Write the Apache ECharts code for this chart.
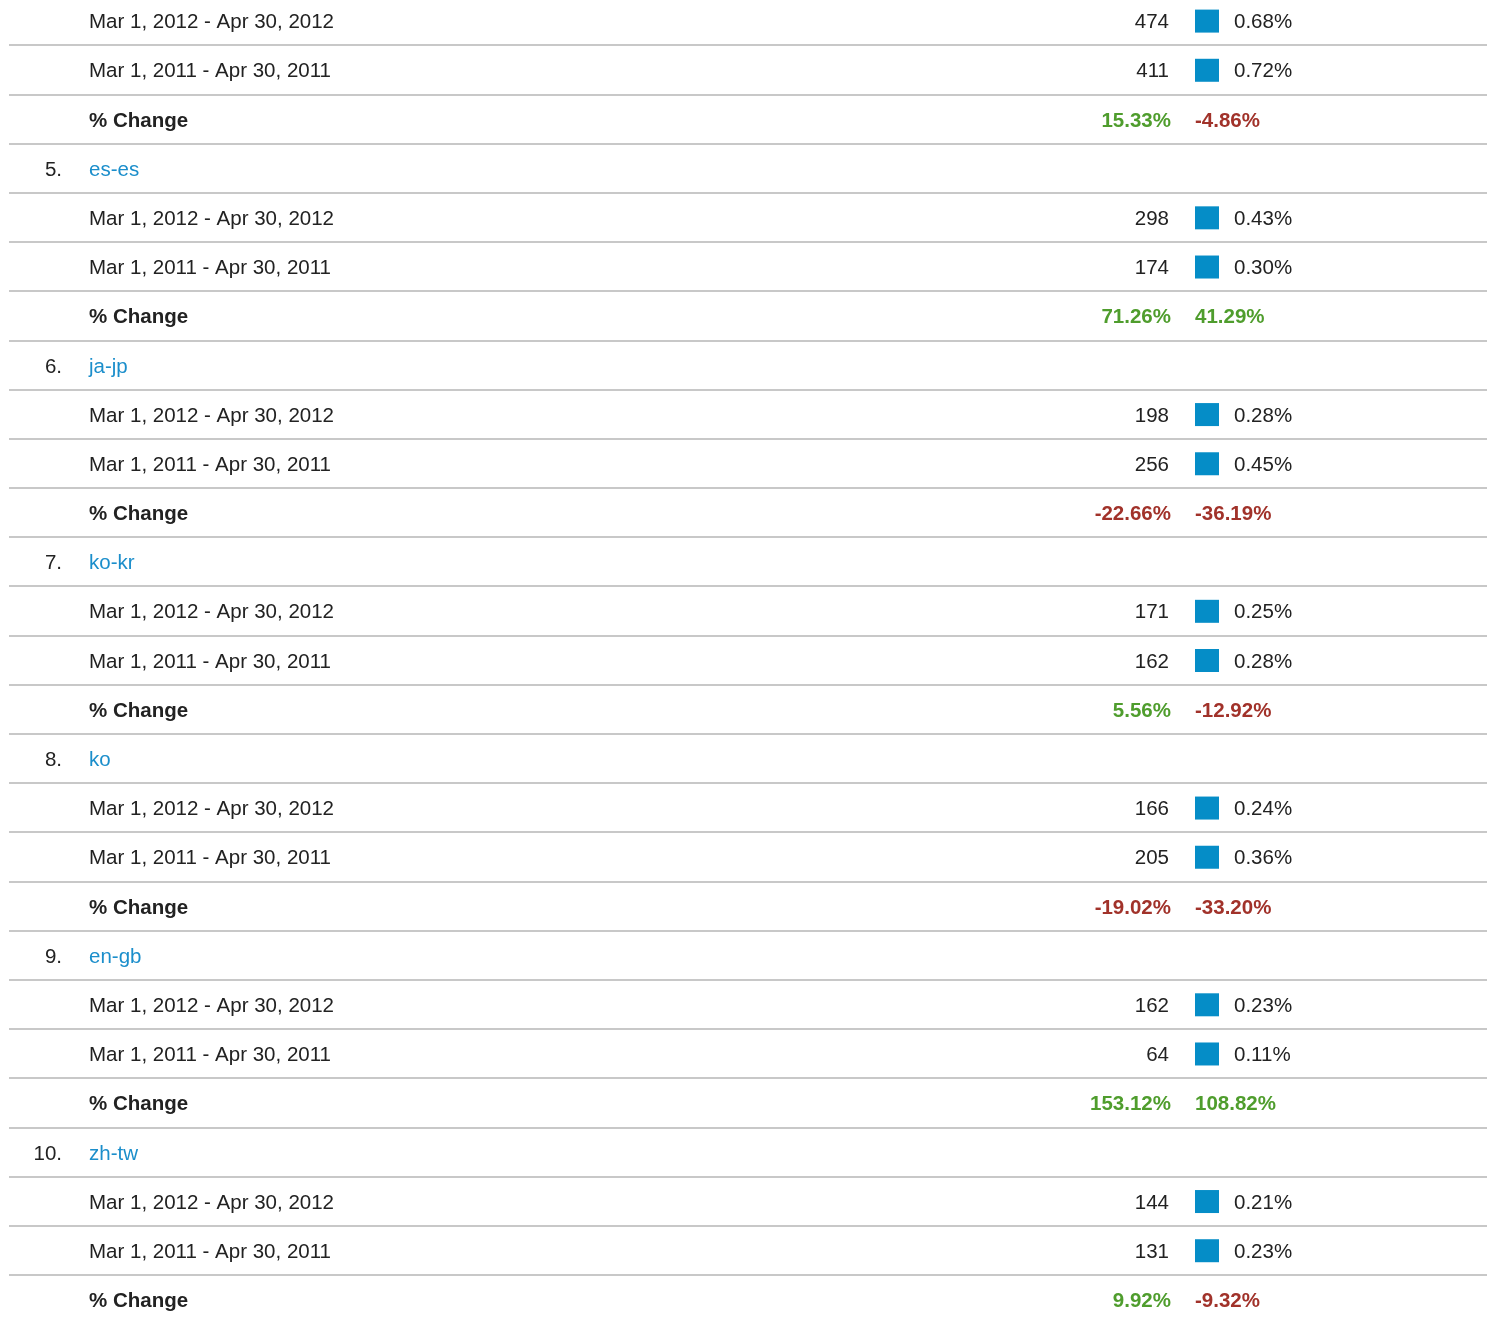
<!DOCTYPE html>
<html>
<head>
<meta charset="utf-8">
<script src="https://cdn.jsdelivr.net/npm/echarts@6/dist/echarts.min.js"></script>
<style>
    html, body { margin: 0; padding: 0; background: #fff; overflow: hidden; }
    /* 第一行被截掉一截，所以整体往上挪一点 */
    #main { position: absolute; left: 0; top: -4.2px; width: 1494px; height: 1328.4px; }
</style>
</head>
<body>
<div id="main"></div>
<script>
    // 各组数据（第4名的标题行在截图上方被截掉）
    var ranks = [4, 5, 6, 7, 8, 9, 10];
    var names = ['', 'es-es', 'ja-jp', 'ko-kr', 'ko', 'en-gb', 'zh-tw'];
    var periodCur = 'Mar 1, 2012 - Apr 30, 2012';
    var periodPrev = 'Mar 1, 2011 - Apr 30, 2011';
    var visitsCur = [474, 298, 198, 171, 166, 162, 144];
    var visitsPrev = [411, 174, 256, 162, 205, 64, 131];
    var shareCur = [0.68, 0.43, 0.28, 0.25, 0.24, 0.23, 0.21];
    var sharePrev = [0.72, 0.30, 0.45, 0.28, 0.36, 0.11, 0.23];
    var changeVisits = [15.33, 71.26, -22.66, 5.56, -19.02, 153.12, 9.92];
    var changeShare = [-4.86, 41.29, -36.19, -12.92, -33.20, 108.82, -9.32];

    var FONT = '"Liberation Sans", Arial, Helvetica, sans-serif';
    var TEXT = '#222222';
    var LINK = '#1b8ecb';
    var BLUE = '#058dc7';
    var GREEN = '#4f9d2d';
    var RED = '#a1322a';

    // 拼出每一行
    var rows = [];
    for (var i = 0; i < ranks.length; i++) {
        if (i > 0) {
            rows.push({ kind: 'head', rank: ranks[i] + '.', name: names[i] });
        }
        rows.push({ kind: 'val', label: periodCur, value: visitsCur[i], share: shareCur[i] });
        rows.push({ kind: 'val', label: periodPrev, value: visitsPrev[i], share: sharePrev[i] });
        rows.push({ kind: 'chg', label: '% Change', a: changeVisits[i], b: changeShare[i] });
    }

    function pct(v) {
        return v.toFixed(2) + '%';
    }

    function txt(x, y, s, color, align, bold) {
        return {
            type: 'text',
            style: {
                x: x,
                y: y + 2,
                text: s,
                fill: color,
                font: (bold ? 'bold ' : '') + '20.5px ' + FONT,
                textAlign: align,
                textVerticalAlign: 'middle'
            }
        };
    }

    function renderRow(params, api) {
        var r = rows[api.value(0)];
        var p = api.coord([0, api.value(0)]);
        var x0 = p[0], y = p[1];
        var children = [];
        if (r.kind === 'head') {
            children.push(txt(x0 + 53, y, r.rank, TEXT, 'right'));
            children.push(txt(x0 + 80, y, r.name, LINK, 'left'));
        } else if (r.kind === 'val') {
            children.push(txt(x0 + 80, y, r.label, TEXT, 'left'));
            children.push(txt(x0 + 1160, y, String(r.value), TEXT, 'right'));
            children.push({
                type: 'rect',
                shape: { x: x0 + 1186, y: y - 11, width: 24, height: 23 },
                style: { fill: BLUE }
            });
            children.push(txt(x0 + 1225, y, pct(r.share), TEXT, 'left'));
        } else {
            children.push(txt(x0 + 80, y, r.label, TEXT, 'left', true));
            children.push(txt(x0 + 1162, y, pct(r.a), r.a >= 0 ? GREEN : RED, 'right', true));
            children.push(txt(x0 + 1186, y, pct(r.b), r.b >= 0 ? GREEN : RED, 'left', true));
        }
        return { type: 'group', children: children };
    }

    var chart = echarts.init(document.getElementById('main'));
    var option = {
        animation: false,
        grid: {
            left: 9,
            right: 7,
            top: 0,
            bottom: 0
        },
        xAxis: {
            type: 'value',
            min: 0,
            max: 1,
            show: false
        },
        yAxis: {
            type: 'category',
            inverse: true,
            data: rows.map(function (r, k) { return k; }),
            axisLine: { show: false },
            axisTick: { show: false },
            axisLabel: { show: false },
            splitLine: {
                show: true,
                lineStyle: { color: '#c8c8c8', width: 2 }
            }
        },
        series: [{
            type: 'custom',
            silent: true,
            renderItem: renderRow,
            data: rows.map(function (r, k) { return [k]; }),
            encode: { y: 0 }
        }]
    };
    chart.setOption(option);
</script>
</body>
</html>
